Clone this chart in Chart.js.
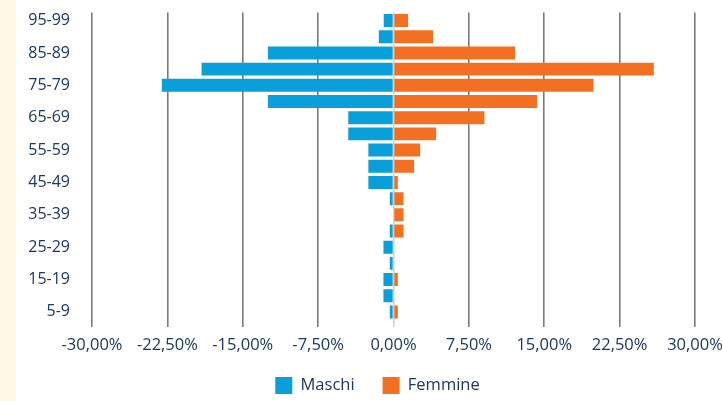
<!DOCTYPE html>
<html lang="it">
<head>
  <meta charset="UTF-8">
  <title>Piramide per età</title>
  <script src="https://cdn.jsdelivr.net/npm/chart.js"></script>
  <style>
    html, body {
      margin: 0;
      padding: 0;
      background: linear-gradient(to right, #fdf9e6 0, #fdf9e6 16px, #fff 16px);
    }
    .wrap {
      position: relative;
      width: 723px;
      height: 401px;
    }
  </style>
</head>
<body>
  <div class="wrap"><canvas id="pyramid"></canvas></div>

  <script>
    // age classes, youngest first (axis is reversed so 95-99 ends up on top)
    const categories = ['5-9', '10-14', '15-19', '20-24', '25-29', '30-34', '35-39', '40-44',
      '45-49', '50-54', '55-59', '60-64', '65-69', '70-74', '75-79', '80-84', '85-89', '90-94', '95-99'];

    // % of population, males drawn to the left (negative)
    const maschi = [-0.37, -1.0, -1.0, -0.37, -1.0, -0.37, 0, -0.37,
      -2.5, -2.5, -2.5, -4.5, -4.5, -12.5, -23.05, -19.1, -12.5, -1.46, -0.97];
    const femmine = [0.43, 0, 0.43, 0, 0, 1.0, 1.0, 1.0,
      0.43, 2.05, 2.65, 4.24, 9.05, 14.3, 19.9, 25.9, 12.1, 3.94, 1.45];

    const xTicks = [-30, -22.5, -15, -7.5, 0, 7.5, 15, 22.5, 30];

    const navy = '#1b3764';
    const fmtPct = v => v.toFixed(2).replace('.', ',') + '%';

    // keep the legend short (wide item gap but little height) and nudge it
    // a bit right of centre like in the original
    const legendTweak = {
      id: 'legendTweak',
      beforeLayout(chart) {
        const l = chart.legend;
        if (l && !l._fitPatched) {
          const fit = l.fit;
          l.fit = function () { fit.call(this); this.height = 46; };
          l._fitPatched = true;
        }
      },
      afterLayout(chart) {
        const l = chart.legend;
        if (!l) return;
        l.left += 16; l.right += 16;
        l.top -= 6; l.bottom -= 6;
      }
    };

    new Chart(document.getElementById('pyramid'), {
      type: 'bar',
      data: {
        labels: categories,
        datasets: [
          { label: 'Maschi', data: maschi, backgroundColor: '#089fda', borderWidth: 0 },
          { label: 'Femmine', data: femmine, backgroundColor: '#f36f21', borderWidth: 0 }
        ]
      },
      options: {
        indexAxis: 'y',
        responsive: true,
        maintainAspectRatio: false,
        animation: false,
        layout: { padding: 0 },
        datasets: { bar: { barPercentage: 0.8, categoryPercentage: 1 } },
        scales: {
          x: {
            stacked: true,
            min: xTicks[0],
            max: xTicks[xTicks.length - 1],
            z: 1,
            afterBuildTicks: s => { s.ticks = xTicks.map(v => ({ value: v })); },
            afterFit: s => { s.height = 35; s.paddingLeft = 0; s.paddingRight = 28; },
            border: { display: false },
            grid: {
              color: ctx => (ctx.tick && ctx.tick.value === 0) ? '#d2d2d2' : 'rgba(0,0,0,0.52)',
              lineWidth: 1.6,
              tickLength: 7
            },
            ticks: {
              color: navy,
              padding: 8,
              maxRotation: 0,
              font: { family: 'Open Sans', size: 16.5 },
              callback: v => fmtPct(v)
            }
          },
          y: {
            stacked: true,
            reverse: true,
            afterFit: s => { s.width = 92; s.paddingTop = 12.5; s.paddingBottom = 0; },
            border: { display: false },
            grid: { display: false, drawTicks: false },
            ticks: {
              color: navy,
              padding: 22,
              autoSkip: false,
              font: { family: 'Open Sans', size: 16 },
              callback: (v, i) => (i % 2 === 0 ? categories[i] : '')
            }
          }
        },
        plugins: {
          tooltip: { enabled: false },
          legend: {
            position: 'bottom',
            labels: {
              color: navy,
              boxWidth: 17,
              boxHeight: 17,
              padding: 28,
              font: { family: 'Open Sans', size: 16.5 }
            }
          }
        }
      },
      plugins: [legendTweak]
    });
  </script>
</body>
</html>
